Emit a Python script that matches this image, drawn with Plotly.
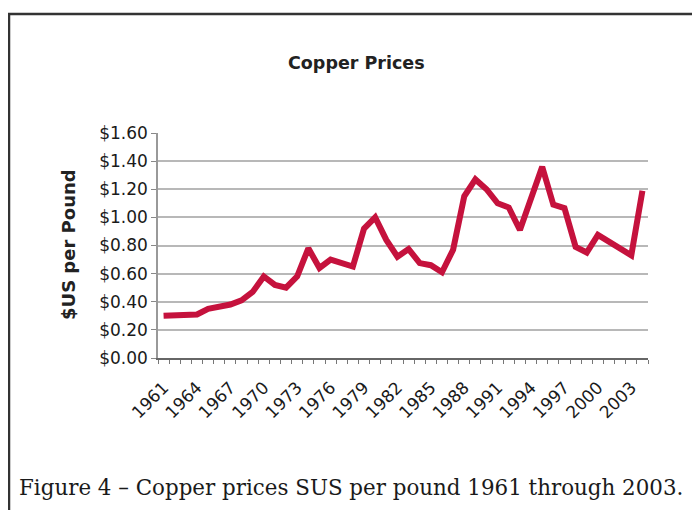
import plotly.graph_objects as go

years = list(range(1961, 2005))
prices = [0.30, 0.30, 0.30, 0.31, 0.35, 0.36, 0.38, 0.41, 0.47, 0.58,
          0.52, 0.50, 0.58, 0.78, 0.64, 0.70, 0.68, 0.65, 0.92, 1.00,
          0.84, 0.72, 0.775, 0.675, 0.66, 0.61, 0.77, 1.15, 1.27, 1.20,
          1.10, 1.07, 0.91, 1.12, 1.36, 1.09, 1.065, 0.79, 0.75, 0.875,
          0.83, 0.78, 0.73, 1.19]
label_years = list(range(1961, 2004, 3))
y_ticks = [0.0, 0.2, 0.4, 0.6, 0.8, 1.0, 1.2, 1.4, 1.6]
y_tick_text = ["$%.2f" % v for v in y_ticks]

title_text = "Copper Prices"
y_title = "$US per Pound"
caption = "Figure 4 \u2013 Copper prices SUS per pound 1961 through 2003."

# page body margin offset (html body has 8px margin)
OFF = 8
W, H = 700, 510
L, R, T, B = 158 - OFF, 52 + OFF, 133 - OFF, 152 + OFF
pw, ph = W - L - R, H - T - B


def px(x):
    return (x - OFF - L) / pw


def py(y):
    return (H - B - (y - OFF)) / ph


fig = go.Figure()
fig.add_trace(go.Scatter(
    x=years, y=prices, mode="lines",
    line=dict(color="#c5123d", width=6, shape="linear"),
    hoverinfo="skip", showlegend=False,
))

sans = "DejaVu Sans"
fig.update_layout(
    width=W, height=H,
    margin=dict(l=L, r=R, t=T, b=B, pad=0),
    paper_bgcolor="white", plot_bgcolor="white",
    font=dict(family=sans, color="#1a1a1a"),
    xaxis=dict(
        range=[1960.5, 2004.5],
        tickmode="array", tickvals=label_years,
        ticktext=[str(v) for v in label_years],
        tickangle=-45, tickfont=dict(size=17, family=sans, color="#1a1a1a"),
        ticks="outside", ticklen=11, tickcolor="rgba(0,0,0,0)", tickwidth=1,
        minor=dict(tickmode="linear", tick0=1960.5, dtick=1, ticks="outside",
                   ticklen=4, tickcolor="#777", tickwidth=1, showgrid=False),
        showgrid=False, zeroline=False,
        showline=True, linecolor="#666", linewidth=2,
    ),
    yaxis=dict(
        range=[0, 1.6], tickmode="array", tickvals=y_ticks, ticktext=y_tick_text,
        tickfont=dict(size=17, family=sans, color="#1a1a1a"),
        ticks="outside", ticklen=5, tickcolor="#888",
        showgrid=True, gridcolor="#b8b8b8", gridwidth=1.5,
        zeroline=False, showline=True, linecolor="#999", linewidth=1.5,
    ),
    annotations=[
        dict(text="<b>%s</b>" % title_text, x=px(356), y=py(63), xref="paper", yref="paper",
             xanchor="center", yanchor="middle", showarrow=False,
             font=dict(size=17.5, family=sans, color="#222")),
        dict(text="<b>%s</b>" % y_title, x=px(68), y=py(245), xref="paper", yref="paper",
             xanchor="center", yanchor="middle", showarrow=False, textangle=-90,
             font=dict(size=18, family=sans, color="#222")),
        dict(text=caption, x=px(17), y=py(487), xref="paper", yref="paper",
             xanchor="left", yanchor="middle", showarrow=False,
             font=dict(size=21.4, family="DejaVu Serif", color="#1a1a1a")),
    ],
    shapes=[
        dict(type="line", xref="paper", yref="paper", x0=px(7), x1=px(708),
             y0=py(14), y1=py(14), line=dict(color="#333", width=2.5)),
        dict(type="line", xref="paper", yref="paper", x0=px(9), x1=px(9),
             y0=py(14), y1=py(518), line=dict(color="#333", width=2.5)),
    ],
)

fig.write_html("out.html")
